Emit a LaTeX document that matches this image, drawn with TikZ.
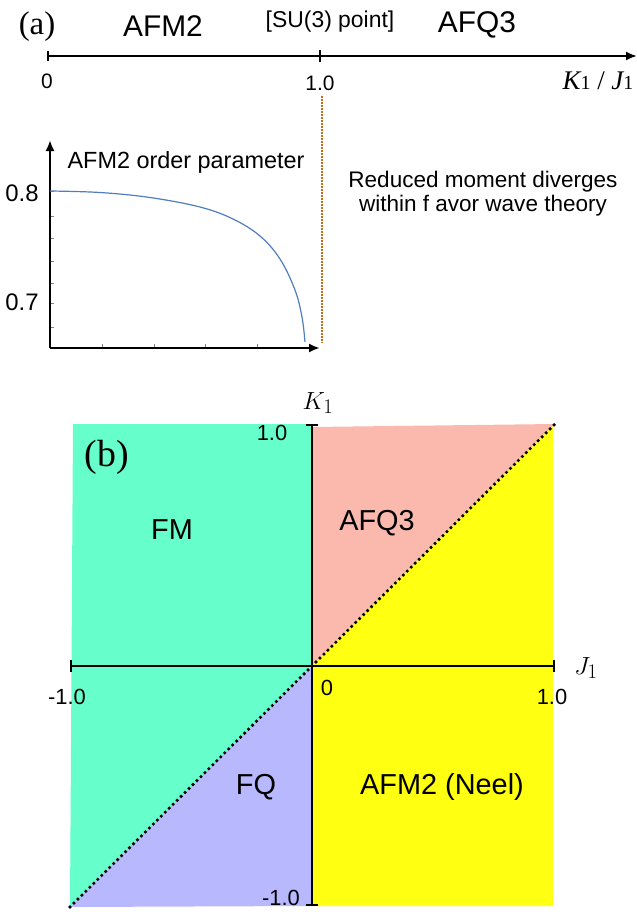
\documentclass[tikz,border=0pt]{standalone}
\usepackage{fontspec}
\setmainfont{Liberation Sans}
\setsansfont{Liberation Sans}
\newfontfamily\tms{Liberation Serif}
\usetikzlibrary{arrows.meta}
\definecolor{fmgreen}{HTML}{66FFCC}
\definecolor{afqpink}{HTML}{FBB9AE}
\definecolor{fqblue}{HTML}{B8B8FF}
\definecolor{afmyellow}{HTML}{FFFF11}
\definecolor{orangedot}{HTML}{C0701A}
\definecolor{curveblue}{HTML}{4F7DBF}
\tikzset{
  lbl/.style={inner sep=0pt, font=\fontsize{#1}{#1}\selectfont},
  lbl/.default=23,
  axisline/.style={line width=2.2bp},
  dotline/.style={line width=3.6bp, line cap=round, dash pattern=on 0bp off 5.6bp},
}
\begin{document}
\begin{tikzpicture}[x=1bp,y=-1bp]
\useasboundingbox (0,0) rectangle (637,912);
% ---------- (a) top axis ----------
\node[lbl=32, font=\tms\fontsize{33}{33}\selectfont] (lblA) at (37,27) {(a)};
\node[lbl=30] (afm2top) at (163,26) {AFM2};
\node[lbl=23] (su3) at (330,22) {[SU(3) point]};
\node[lbl=30] (afq3top) at (477,25) {AFQ3};
\coordinate (ax0) at (47,56);
\coordinate (ax1) at (320,56);
\coordinate (axend) at (637,56);
\draw[line width=2bp, {Bar[width=10bp]}-{Latex[length=11bp,width=9bp]}] (ax0) -- (axend);
\draw[line width=2bp] ([yshift=-6bp]ax1) -- ([yshift=6bp]ax1);
\node[lbl=21] (t0) at (47,81) {0};
\node[lbl=21] (t1) at (320,83) {1.0};
\node[lbl=27, font=\tms\fontsize{27}{27}\selectfont] (kj) at (598,81) {\itshape K\upshape\fontsize{20}{20}\selectfont 1\fontsize{27}{27}\selectfont{} / \itshape J\upshape\fontsize{20}{20}\selectfont 1};
% ---------- order parameter plot ----------
\coordinate (po) at (50,348);
\coordinate (py) at (50,140);
\coordinate (px) at (320,348);
\foreach \yy in {191,216,238,261,283,303,327} \draw[line width=0.5bp, gray] (50,\yy) -- (54,\yy);
\foreach \xx in {102,154,205,257} \draw[line width=0.5bp, gray] (\xx,348) -- (\xx,344);
\draw[axisline, -{Latex[length=11bp,width=9bp]}] (po) -- (py);
\draw[axisline, -{Latex[length=11bp,width=9bp]}] (po) -- (px);
\node[lbl=24] (v08) at (22,193) {0.8};
\node[lbl=24] (v07) at (22,302) {0.7};
\node[lbl=23.5] (optitle) at (186,162) {AFM2 order parameter};
\draw[curveblue, line width=1.2bp] plot[smooth, tension=0.6] coordinates {(50,191) (100,192.5) (150,197.5) (200,207) (233,219) (260,236) (280,259) (295,290) (302,317) (305,342)};
\coordinate (od0) at (322,96);
\coordinate (od1) at (322,343);
\draw[orangedot, line width=2.6bp, dash pattern=on 1.5bp off 1.5bp] (od0) -- (od1);
\node[lbl=22.6] (reduced1) at (483,182) {Reduced moment diverges};
\node[lbl=22.6] (reduced2) at (483,206) {within f avor wave theory};
% ---------- (b) phase diagram ----------
\coordinate (O) at (312,666);
\coordinate (TL) at (73,424);
\coordinate (TM) at (312,424);
\coordinate (TMp) at (312,427);
\coordinate (TR) at (555,424);
\coordinate (BR) at (553,906);
\coordinate (BM) at (312,906);
\coordinate (BL) at (70,907);
\fill[fmgreen] (TL) -- (TM) -- (O) -- (BL) -- cycle;
\fill[fqblue] (BL) -- (O) -- (BM) -- cycle;
\fill[afqpink] (TMp) -- (TR) -- (O) -- cycle;
\fill[afmyellow] (O) -- (TR) -- (553,424) -- (BR) -- (BM) -- cycle;
\coordinate (hl) at (70,666);
\coordinate (hr) at (555,666);
\draw[axisline, {Bar[width=12bp]}-{Bar[width=12bp]}] (hl) -- (hr);
\draw[axisline, {Bar[width=12bp]}-{Bar[width=12bp]}] (TM) -- (BM);
\draw[dotline] (BL) -- (TR);
\node[lbl=30] (K1b) at (318,403) {$K_1$};
\node[lbl=30] (J1b) at (586,668) {$J_1$};
\node[lbl=22] (kp1) at (272,433) {1.0};
\node[lbl=38, font=\tms\fontsize{38}{38}\selectfont] (lblB) at (107,457) {(b)};
\node[lbl=29] (fm) at (172,530) {FM};
\node[lbl=29] (afq3) at (377,523) {AFQ3};
\node[lbl=22] (jm1) at (67,697) {-1.0};
\node[lbl=22] (j0) at (327,688) {0};
\node[lbl=22] (jp1) at (552,697) {1.0};
\node[lbl=29] (fq) at (256,787) {FQ};
\node[lbl=29] (afm2b) at (442,787) {AFM2 (Neel)};
\node[lbl=22] (km1) at (281,898) {-1.0};
\end{tikzpicture}
\end{document}
